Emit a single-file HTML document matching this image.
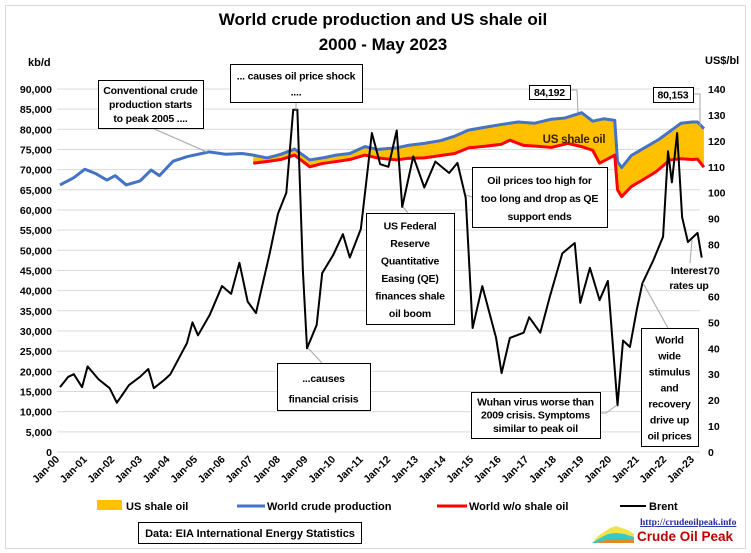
<!DOCTYPE html>
<html><head><meta charset="utf-8"><style>
body{margin:0;background:#fff;}
svg{display:block;font-family:"Liberation Sans",sans-serif;}
</style></head><body>
<svg id="chart" width="751" height="553" viewBox="0 0 751 553" xmlns="http://www.w3.org/2000/svg">
<rect x="5.5" y="5.5" width="740" height="543" fill="#fff" stroke="#d9d9d9"/>
<text x="383" y="25" text-anchor="middle" font-size="17" font-weight="bold">World crude production and US shale oil</text>
<text x="383" y="50" text-anchor="middle" font-size="17" font-weight="bold">2000 - May 2023</text>
<text x="28" y="66" font-size="11" font-weight="bold">kb/d</text>
<text x="705" y="64" font-size="11" font-weight="bold">US$/bl</text>
<g id="grid"></g>
<g id="axes"></g>
<g id="series"></g>
<g id="notes" font-size="10.5" font-weight="bold" text-anchor="middle" letter-spacing="-0.2"></g>
<g font-size="11" font-weight="bold">
<rect x="97" y="500" width="25" height="10" fill="#ffc000"/>
<text x="126" y="510">US shale oil</text>
<line x1="237" y1="506" x2="265" y2="506" stroke="#4472c4" stroke-width="3"/>
<text x="267" y="510">World crude production</text>
<line x1="437" y1="506" x2="467" y2="506" stroke="#ff0000" stroke-width="3"/>
<text x="469" y="510">World w/o shale oil</text>
<line x1="620" y1="506" x2="646" y2="506" stroke="#000" stroke-width="2"/>
<text x="649" y="510">Brent</text>
</g>
<rect x="138.5" y="522.5" width="223" height="21" fill="#fff" stroke="#000"/>
<text x="250" y="537" text-anchor="middle" font-size="11" font-weight="bold">Data: EIA International Energy Statistics</text>
<g>
<path d="M592 543 L598 536 L604 532 L610 528 L616 526 L622 528 L628 530 L634 534 L634 543 Z" fill="#f2e24a"/>
<path d="M592 543 L600 538 L608 534 L616 533 L624 534 L634 537 L634 543 Z" fill="#37c8c8"/>
<path d="M596 543 L606 540 L618 539 L634 540 L634 543 Z" fill="#e08a2a"/>
<text x="640" y="525" font-family="Liberation Serif" font-size="9.5" font-weight="bold" fill="#1f2fa0" text-decoration="underline">http://crudeoilpeak.info</text>
<text x="637" y="541" font-size="13.5" font-weight="bold" fill="#c00000">Crude Oil Peak</text>
</g>
</svg>
<script>
const leftTicks=[0,5000,10000,15000,20000,25000,30000,35000,40000,45000,50000,55000,60000,65000,70000,75000,80000,85000,90000];
const rightTicks=[0,10,20,30,40,50,60,70,80,90,100,110,120,130,140];
const yearLabels=["Jan-00","Jan-01","Jan-02","Jan-03","Jan-04","Jan-05","Jan-06","Jan-07","Jan-08","Jan-09","Jan-10","Jan-11","Jan-12","Jan-13","Jan-14","Jan-15","Jan-16","Jan-17","Jan-18","Jan-19","Jan-20","Jan-21","Jan-22","Jan-23"];
const worldT=[0,0.5,0.9,1.3,1.7,2.0,2.4,2.9,3.3,3.6,4.1,4.6,5.4,6.0,6.6,7.0,7.5,8.0,8.5,9.05,9.6,10.0,10.5,11.05,11.5,12.2,12.6,13.2,13.8,14.3,14.8,15.4,16.0,16.6,17.2,17.8,18.3,18.9,19.3,19.7,20.1,20.2,20.35,20.7,21.2,21.7,22.0,22.5,22.9,23.1,23.33];
const worldV=[66200,68000,70100,69000,67400,68500,66200,67200,69900,68500,72100,73200,74400,73800,74000,73600,72900,73800,75100,72400,73000,73600,74000,75700,75000,75400,76000,76500,77200,78300,79800,80500,81200,81800,81500,82500,82800,84100,82000,82600,82200,72000,70500,73500,75500,77500,79000,81500,81800,81800,80153];
const woT=[7.0,7.5,8.0,8.5,9.05,9.5,10.0,10.5,11.05,11.5,12.2,12.6,13.2,13.8,14.3,14.8,15.4,16.0,16.3,16.8,17.3,17.8,18.4,18.9,19.3,19.55,19.8,20.1,20.2,20.35,20.7,21.1,21.6,22.1,22.5,22.9,23.1,23.33];
const woV=[71600,72000,72500,73600,70700,71500,72000,72500,73600,72900,72400,72800,72900,73500,74000,75400,75800,76300,77300,76000,75800,75500,76500,75700,74800,71600,72500,73600,65000,63300,65800,67400,69500,72400,72700,72500,72600,70600];
const brentT=[0,0.3,0.5,0.8,1.0,1.4,1.8,2.06,2.5,2.9,3.2,3.4,3.8,4.0,4.35,4.6,4.8,5.0,5.43,5.87,6.2,6.5,6.8,7.1,7.6,7.9,8.2,8.45,8.6,8.8,8.95,9.3,9.5,9.9,10.25,10.5,10.9,11.3,11.6,11.9,12.2,12.4,12.8,13.2,13.6,14.1,14.4,14.7,14.95,15.3,15.8,16.0,16.3,16.8,17.0,17.4,17.75,18.2,18.65,18.85,19.2,19.55,19.85,20.2,20.4,20.65,20.9,21.1,21.5,21.85,22.03,22.17,22.36,22.54,22.75,23.1,23.25];
const brentV=[25,29,30,25,33,28,24.6,19,25.8,29,32,24.6,28,30,37,42,50,45,53,64,61,73,58,53.6,76.7,92,100,132,132,70,40,49,69,76,84,75,86,123,111,110,124,94.5,114,102,112,107.6,111.5,98,47.8,64,44,30.4,44,46,52,46,60,76.6,80.6,57.5,71,58.6,66,18,43,40.5,55,65,74,83,116,104,123,90.6,81,84.5,75];

const NS="http://www.w3.org/2000/svg";
const X=t=>60+t*27.6;
const Y=v=>452-v/5000*20.17;
const YB=p=>452-p*2.593;
function mk(tag,attrs,parent){const e=document.createElementNS(NS,tag);for(const k in attrs)e.setAttribute(k,attrs[k]);parent.appendChild(e);return e;}
const grid=document.getElementById('grid'),axes=document.getElementById('axes'),ser=document.getElementById('series'),notes=document.getElementById('notes');
leftTicks.forEach(v=>{
  const l=mk('line',{x1:57,x2:700,y1:Y(v),y2:Y(v),stroke:'#d9d9d9','stroke-width':1},grid);
  
  
  const t=mk('text',{x:52,y:Y(v)+4,'text-anchor':'end','font-size':10.5,'font-weight':'bold'},axes);
  t.textContent=v.toLocaleString('en-US');
  
  
});
rightTicks.forEach(p=>{
  const t=mk('text',{x:708,y:YB(p)+4,'font-size':10.5,'font-weight':'bold'},axes);
  t.textContent=p;
  
  
});
yearLabels.forEach((s,i)=>{
  const x=X(i);
  const t=mk('text',{x:x,y:460,'text-anchor':'end','font-size':10.5,'font-weight':'bold',transform:`rotate(-45 ${x} 460)`},axes);
  t.textContent=s;
  
  
});
function interp(T,V,t){for(let i=0;i<T.length-1;i++){if(t>=T[i]&&t<=T[i+1]){const f=(t-T[i])/(T[i+1]-T[i]);return V[i]+f*(V[i+1]-V[i]);}}return V[V.length-1];}
let pts=[];
const t0=woT[0];
pts.push([X(t0),Y(interp(worldT,worldV,t0))]);
worldT.forEach((t,i)=>{if(t>t0)pts.push([X(t),Y(worldV[i])]);});
for(let i=woT.length-1;i>=0;i--)pts.push([X(woT[i]),Y(woV[i])]);
const fill=mk('polygon',{points:pts.map(p=>p.join(',')).join(' '),fill:'#ffc000'},ser);


function line(T,V,yf,color,w,name){
  const e=mk('polyline',{points:T.map((t,i)=>X(t)+','+yf(V[i])).join(' '),fill:'none',stroke:color,'stroke-width':w,'stroke-linejoin':'round'},ser);
  
  
}
line(worldT,worldV,Y,'#4472c4',3,'world-crude-line');
line(woT,woV,Y,'#ff0000',3,'world-wo-shale-line');
line(brentT,brentV,YB,'#000',2,'brent-line');

const boxes=[
 {n:'note-conventional-peak',x:98,y:80,w:105,h:48,lines:['Conventional  crude','production  starts','to peak 2005 ....'],l:[152,128,207,152]},
 {n:'note-price-shock',x:230,y:64,w:132,h:38,lines:['... causes oil price shock','....'],l:[296,102,296,110]},
 {n:'note-financial-crisis',x:277,y:363,w:93,h:47,lines:['...causes','financial crisis'],l:[322,363,308,348]},
 {n:'note-qe',x:366,y:213,w:88,h:111,lines:['US Federal','Reserve','Quantitative','Easing (QE)','finances shale','oil boom'],l:[408,213,403,207]},
 {n:'note-oil-prices-high',x:472,y:167,w:135,h:60,lines:['Oil prices too high for','too long and drop as QE','support  ends'],l:[472,197,466,195]},
 {n:'note-peak-84192',x:529,y:85,w:41,h:14,lines:['84,192'],l:[570,90,577,90,578,112]},
 {n:'note-80153',x:653,y:87,w:40,h:15,lines:['80,153'],l:[693,94,700,94,700,127]},
 {n:'note-wuhan',x:471,y:392,w:129,h:46,lines:['Wuhan virus worse than','2009 crisis. Symptoms','similar to peak oil'],l:[600,413,606,413,617,405]},
 {n:'note-stimulus',x:641,y:328,w:57,h:118,lines:['World','wide','stimulus','and','recovery','drive up','oil prices'],l:[668,328,643,283]},
 {n:'note-interest-rates',x:668,y:262,w:42,h:0,lines:['Interest','rates up'],l:[690,263,692,240]}
];
boxes.forEach(b=>{
  const g=mk('g',{},notes);
  
  
  const lp=[];for(let i=0;i<b.l.length;i+=2)lp.push(b.l[i]+','+b.l[i+1]);
  mk('polyline',{points:lp.join(' '),fill:'none',stroke:'#a6a6a6','stroke-width':1},g);
  if(b.h>0)mk('rect',{x:b.x+0.5,y:b.y+0.5,width:b.w,height:b.h,fill:'#fff',stroke:'#000','stroke-width':1},g);
  const lh=b.lines.length>1?(b.h>0?(b.h-6)/b.lines.length:15):0;
  const start=b.h>0?b.y+3+lh*0.78:b.y+12;
  b.lines.forEach((s,i)=>{
    const t=mk('text',{x:b.x+b.w/2,y:(b.lines.length===1&&b.h>0)?b.y+b.h/2+4:start+i*(lh||15)},g);
    t.textContent=s;
  });
});
const sl=mk('text',{x:574,y:143,'font-size':11.5,'font-weight':'bold',fill:'#3a1e00','text-anchor':'middle'},notes);
sl.textContent='US shale oil';


</script>
</body></html>
